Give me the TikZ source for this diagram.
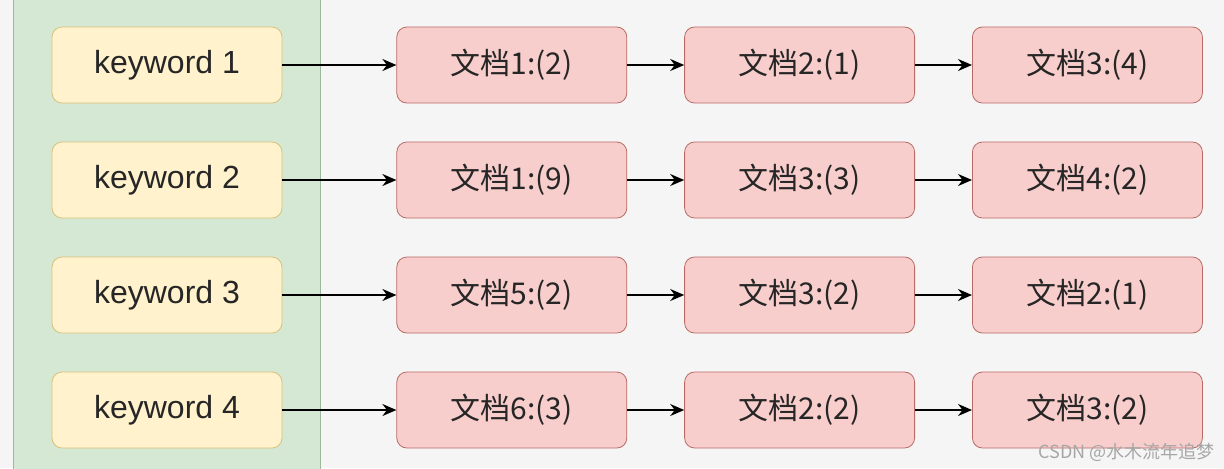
\documentclass[tikz,border=0pt]{standalone}
\usepackage{fontspec}
\setmainfont{Liberation Sans}
\newfontfamily\cjk{Noto Sans CJK SC}
\usetikzlibrary{arrows.meta,positioning}
\definecolor{bgGrey}{HTML}{F5F5F5}
\definecolor{panelFill}{HTML}{D5E8D4}
\definecolor{panelLine}{HTML}{9DB89A}
\definecolor{keyFill}{HTML}{FFF2CC}
\definecolor{keyLine}{HTML}{D9C07A}
\definecolor{docFill}{HTML}{F8CECC}
\definecolor{docLine}{HTML}{B86A66}

\begin{document}
\begin{tikzpicture}[
  x=0.5pt, y=-0.5pt,
  node distance=28.5pt,
  key/.style={draw=keyLine, fill=keyFill, rounded corners=5pt, minimum width=115pt, minimum height=38pt, inner sep=0pt, text=black!85, font=\fontsize{16}{18}\selectfont},
  doc/.style={draw=docLine, fill=docFill, rounded corners=5pt, minimum width=115pt, minimum height=38pt, inner sep=0pt, text=black!85, font=\cjk\fontsize{15}{18}\selectfont},
  arr/.style={-{Stealth[length=7pt,width=6pt]}, thick}
]
  \fill[bgGrey] (0,0) rectangle (1224,468);
  \useasboundingbox (0,0) rectangle (1224,468);
  \draw[panelLine, fill=panelFill] (13,-5) rectangle (320,473);

  % rows
  \node[key] (k1) at (167,65) {keyword 1};
  \node[key] (k2) at (167,180) {keyword 2};
  \node[key] (k3) at (167,295) {keyword 3};
  \node[key] (k4) at (167,410) {keyword 4};

  \node[doc, right=57pt of k1] (d11) {文档1:(2)};
  \node[doc, right=of d11] (d12) {文档2:(1)};
  \node[doc, right=of d12] (d13) {文档3:(4)};

  \node[doc, right=57pt of k2] (d21) {文档1:(9)};
  \node[doc, right=of d21] (d22) {文档3:(3)};
  \node[doc, right=of d22] (d23) {文档4:(2)};

  \node[doc, right=57pt of k3] (d31) {文档5:(2)};
  \node[doc, right=of d31] (d32) {文档3:(2)};
  \node[doc, right=of d32] (d33) {文档2:(1)};

  \node[doc, right=57pt of k4] (d41) {文档6:(3)};
  \node[doc, right=of d41] (d42) {文档2:(2)};
  \node[doc, right=of d42] (d43) {文档3:(2)};

  \foreach \r in {1,2,3,4} {
    \draw[arr] (k\r) -- (d\r1);
    \draw[arr] (d\r1) -- (d\r2);
    \draw[arr] (d\r2) -- (d\r3);
  }

  \node[anchor=east, text=black!35, font=\cjk\fontsize{9}{11}\selectfont] (mark) at (1222,452) {CSDN @水木流年追梦};
\end{tikzpicture}
\end{document}
